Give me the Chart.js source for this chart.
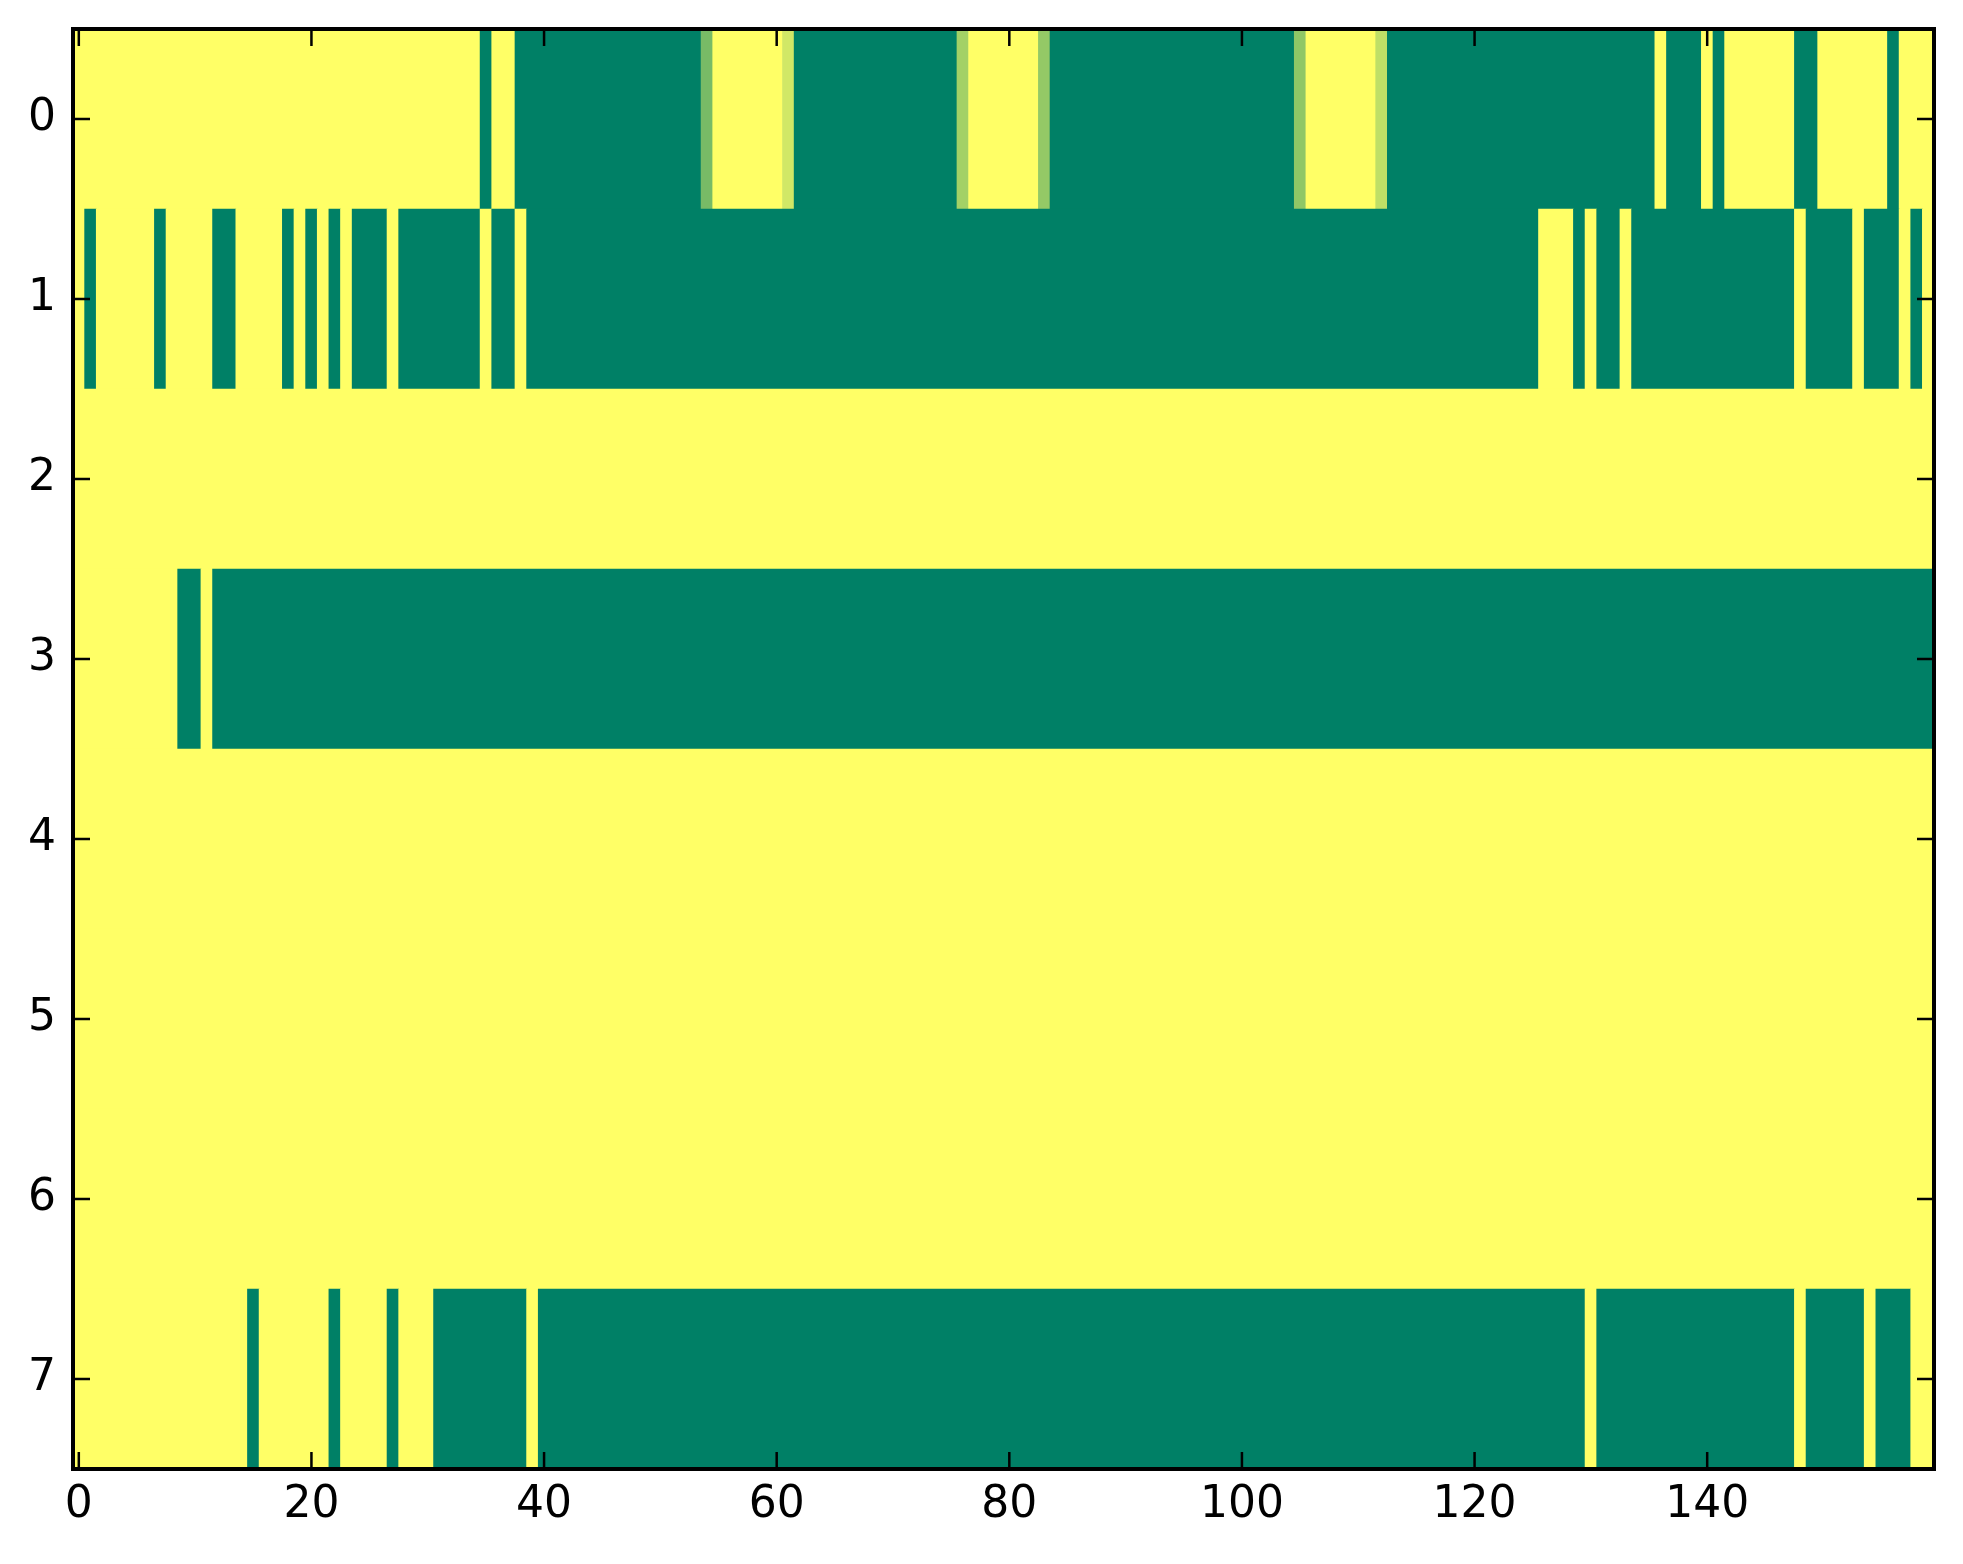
<!DOCTYPE html>
<html>
<head>
<meta charset="utf-8">
<title>heatmap</title>
<script src="https://cdn.jsdelivr.net/npm/chart.js@4.4.1/dist/chart.umd.min.js"></script>
<style>
    html, body { margin: 0; padding: 0; background: #fff; }
    canvas { display: block; }
</style>
</head>
<body>
<canvas id="myChart" width="1963" height="1564"></canvas>
<script>
// one array per row, one value per column (0 = green, 1 = yellow)
const row0 = [
    1,1,1,1,1,1,1,1,1,1,1,1,1,1,1,1,1,1,1,1,
    1,1,1,1,1,1,1,1,1,1,1,1,1,1,1,0,1,1,0,0,
    0,0,0,0,0,0,0,0,0,0,0,0,0,0,0.47,1,1,1,1,1,
    1,0.82,0,0,0,0,0,0,0,0,0,0,0,0,0,0,0.64,1,1,1,
    1,1,1,0.58,0,0,0,0,0,0,0,0,0,0,0,0,0,0,0,0,
    0,0,0,0,0,0.56,1,1,1,1,1,1,0.75,0,0,0,0,0,0,0,
    0,0,0,0,0,0,0,0,0,0,0,0,0,0,0,0,1,0,0,0,
    1,0,1,1,1,1,1,1,0,0,1,1,1,1,1,1,0,1,1,1
];
const row1 = [
    1,0,1,1,1,1,1,0,1,1,1,1,0,0,1,1,1,1,0,1,
    0,1,0,1,0,0,0,1,0,0,0,0,0,0,0,1,0,0,1,0,
    0,0,0,0,0,0,0,0,0,0,0,0,0,0,0,0,0,0,0,0,
    0,0,0,0,0,0,0,0,0,0,0,0,0,0,0,0,0,0,0,0,
    0,0,0,0,0,0,0,0,0,0,0,0,0,0,0,0,0,0,0,0,
    0,0,0,0,0,0,0,0,0,0,0,0,0,0,0,0,0,0,0,0,
    0,0,0,0,0,0,1,1,1,0,1,0,0,1,0,0,0,0,0,0,
    0,0,0,0,0,0,0,0,1,0,0,0,0,1,0,0,0,1,0,1
];
const row2 = [
    1,1,1,1,1,1,1,1,1,1,1,1,1,1,1,1,1,1,1,1,
    1,1,1,1,1,1,1,1,1,1,1,1,1,1,1,1,1,1,1,1,
    1,1,1,1,1,1,1,1,1,1,1,1,1,1,1,1,1,1,1,1,
    1,1,1,1,1,1,1,1,1,1,1,1,1,1,1,1,1,1,1,1,
    1,1,1,1,1,1,1,1,1,1,1,1,1,1,1,1,1,1,1,1,
    1,1,1,1,1,1,1,1,1,1,1,1,1,1,1,1,1,1,1,1,
    1,1,1,1,1,1,1,1,1,1,1,1,1,1,1,1,1,1,1,1,
    1,1,1,1,1,1,1,1,1,1,1,1,1,1,1,1,1,1,1,1
];
const row3 = [
    1,1,1,1,1,1,1,1,1,0,0,1,0,0,0,0,0,0,0,0,
    0,0,0,0,0,0,0,0,0,0,0,0,0,0,0,0,0,0,0,0,
    0,0,0,0,0,0,0,0,0,0,0,0,0,0,0,0,0,0,0,0,
    0,0,0,0,0,0,0,0,0,0,0,0,0,0,0,0,0,0,0,0,
    0,0,0,0,0,0,0,0,0,0,0,0,0,0,0,0,0,0,0,0,
    0,0,0,0,0,0,0,0,0,0,0,0,0,0,0,0,0,0,0,0,
    0,0,0,0,0,0,0,0,0,0,0,0,0,0,0,0,0,0,0,0,
    0,0,0,0,0,0,0,0,0,0,0,0,0,0,0,0,0,0,0,0
];
const row4 = [
    1,1,1,1,1,1,1,1,1,1,1,1,1,1,1,1,1,1,1,1,
    1,1,1,1,1,1,1,1,1,1,1,1,1,1,1,1,1,1,1,1,
    1,1,1,1,1,1,1,1,1,1,1,1,1,1,1,1,1,1,1,1,
    1,1,1,1,1,1,1,1,1,1,1,1,1,1,1,1,1,1,1,1,
    1,1,1,1,1,1,1,1,1,1,1,1,1,1,1,1,1,1,1,1,
    1,1,1,1,1,1,1,1,1,1,1,1,1,1,1,1,1,1,1,1,
    1,1,1,1,1,1,1,1,1,1,1,1,1,1,1,1,1,1,1,1,
    1,1,1,1,1,1,1,1,1,1,1,1,1,1,1,1,1,1,1,1
];
const row5 = [
    1,1,1,1,1,1,1,1,1,1,1,1,1,1,1,1,1,1,1,1,
    1,1,1,1,1,1,1,1,1,1,1,1,1,1,1,1,1,1,1,1,
    1,1,1,1,1,1,1,1,1,1,1,1,1,1,1,1,1,1,1,1,
    1,1,1,1,1,1,1,1,1,1,1,1,1,1,1,1,1,1,1,1,
    1,1,1,1,1,1,1,1,1,1,1,1,1,1,1,1,1,1,1,1,
    1,1,1,1,1,1,1,1,1,1,1,1,1,1,1,1,1,1,1,1,
    1,1,1,1,1,1,1,1,1,1,1,1,1,1,1,1,1,1,1,1,
    1,1,1,1,1,1,1,1,1,1,1,1,1,1,1,1,1,1,1,1
];
const row6 = [
    1,1,1,1,1,1,1,1,1,1,1,1,1,1,1,1,1,1,1,1,
    1,1,1,1,1,1,1,1,1,1,1,1,1,1,1,1,1,1,1,1,
    1,1,1,1,1,1,1,1,1,1,1,1,1,1,1,1,1,1,1,1,
    1,1,1,1,1,1,1,1,1,1,1,1,1,1,1,1,1,1,1,1,
    1,1,1,1,1,1,1,1,1,1,1,1,1,1,1,1,1,1,1,1,
    1,1,1,1,1,1,1,1,1,1,1,1,1,1,1,1,1,1,1,1,
    1,1,1,1,1,1,1,1,1,1,1,1,1,1,1,1,1,1,1,1,
    1,1,1,1,1,1,1,1,1,1,1,1,1,1,1,1,1,1,1,1
];
const row7 = [
    1,1,1,1,1,1,1,1,1,1,1,1,1,1,1,0,1,1,1,1,
    1,1,0,1,1,1,1,0,1,1,1,0,0,0,0,0,0,0,0,1,
    0,0,0,0,0,0,0,0,0,0,0,0,0,0,0,0,0,0,0,0,
    0,0,0,0,0,0,0,0,0,0,0,0,0,0,0,0,0,0,0,0,
    0,0,0,0,0,0,0,0,0,0,0,0,0,0,0,0,0,0,0,0,
    0,0,0,0,0,0,0,0,0,0,0,0,0,0,0,0,0,0,0,0,
    0,0,0,0,0,0,0,0,0,0,1,0,0,0,0,0,0,0,0,0,
    0,0,0,0,0,0,0,0,1,0,0,0,0,0,1,0,0,0,1,1
];

const rows = [row0, row1, row2, row3, row4, row5, row6, row7];
const rowLabels = ['0', '1', '2', '3', '4', '5', '6', '7'];
const xTicks = [0, 20, 40, 60, 80, 100, 120, 140];
const nCols = 160;

// matplotlib "summer" colormap
function summer(v) {
    const r = Math.round(255 * v);
    const g = Math.round(255 * (0.5 + 0.5 * v));
    return `rgb(${r}, ${g}, 102)`;
}

// equal neighbours in a row become one floating bar (no seams between cells)
const bars = [];
const barColors = [];
rows.forEach((row, r) => {
    let start = 0;
    for (let c = 1; c <= row.length; c++) {
        if (c === row.length || row[c] !== row[start]) {
            bars.push({ x: [start - 0.5, c - 0.5], y: rowLabels[r] });
            barColors.push(summer(row[start]));
            start = c;
        }
    }
});

// frame + inward ticks on all four sides
const framePlugin = {
    id: 'frame',
    afterDraw(chart) {
        const ctx = chart.ctx;
        const a = chart.chartArea;
        const len = 17;
        ctx.save();
        ctx.strokeStyle = '#000';
        ctx.lineWidth = 2.5;
        ctx.beginPath();
        xTicks.forEach(v => {
            const px = chart.scales.x.getPixelForValue(v);
            ctx.moveTo(px, a.bottom);
            ctx.lineTo(px, a.bottom - len);
            ctx.moveTo(px, a.top);
            ctx.lineTo(px, a.top + len);
        });
        rowLabels.forEach((l, i) => {
            const py = chart.scales.y.getPixelForValue(i);
            ctx.moveTo(a.left, py);
            ctx.lineTo(a.left + len, py);
            ctx.moveTo(a.right, py);
            ctx.lineTo(a.right - len, py);
        });
        ctx.stroke();
        ctx.lineWidth = 4;
        ctx.strokeRect(a.left, a.top, a.right - a.left, a.bottom - a.top);
        ctx.restore();
    }
};

const tickFont = { family: 'DejaVu Sans', size: 44 };

// fixed axis boxes, no extra label overflow padding
function fixBox(scale, w, h) {
    if (w !== null) scale.width = w;
    if (h !== null) scale.height = h;
    scale.paddingTop = 0;
    scale.paddingBottom = 0;
    scale.paddingLeft = 0;
    scale.paddingRight = 0;
}

const chart = new Chart(document.getElementById('myChart').getContext('2d'), {
    type: 'bar',
    data: {
        labels: rowLabels,
        datasets: [{
            data: bars,
            backgroundColor: barColors,
            borderWidth: 0,
            barPercentage: 1,
            categoryPercentage: 1
        }]
    },
    options: {
        indexAxis: 'y',
        responsive: false,
        devicePixelRatio: 1,
        animation: false,
        layout: { padding: { left: 0, right: 29, top: 29, bottom: 0 } },
        plugins: {
            legend: { display: false },
            tooltip: { enabled: false }
        },
        scales: {
            x: {
                type: 'linear',
                position: 'bottom',
                min: -0.5,
                max: nCols - 0.5,
                grid: { display: false, drawTicks: false },
                border: { display: false },
                afterBuildTicks: scale => {
                    scale.ticks = xTicks.map(v => ({ value: v }));
                },
                afterFit: scale => fixBox(scale, null, 95),
                ticks: { color: '#000', font: tickFont, padding: 10, maxRotation: 0 }
            },
            y: {
                type: 'category',
                position: 'left',
                offset: true,
                grid: { display: false, drawTicks: false },
                border: { display: false },
                afterFit: scale => fixBox(scale, 73, null),
                ticks: { color: '#000', font: tickFont, padding: 17 }
            }
        }
    },
    plugins: [framePlugin]
});
</script>
</body>
</html>
